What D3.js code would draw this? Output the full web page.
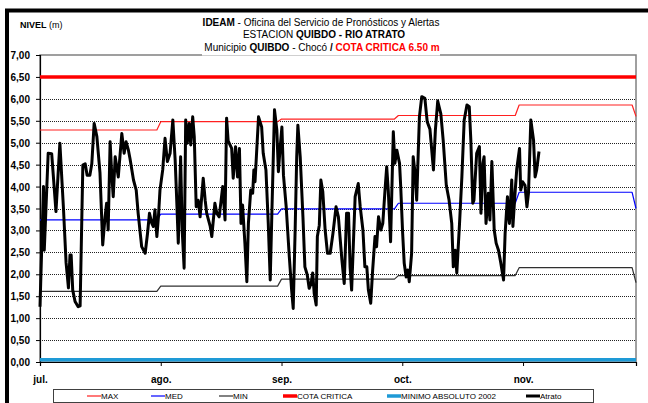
<!DOCTYPE html>
<html>
<head>
<meta charset="utf-8">
<title>Nivel Rio Atrato - Quibdo</title>
<script src="https://d3js.org/d3.v7.min.js"></script>
<style>
  body { margin: 0; background: #fff; }
  svg { display: block; }
  text { font-family: "Liberation Sans Narrow", "Arial Narrow", "Liberation Sans", Arial, sans-serif; fill: #000; }
  .lbl { font-family: "Liberation Sans", Arial, sans-serif; font-weight: bold; font-size: 10px; }
</style>
</head>
<body>
<svg width="648" height="403"></svg>
<script>
// monthly reference levels (m), one value per month start
const months = ['2008-07-01', '2008-08-01', '2008-09-01', '2008-10-01', '2008-11-01', '2008-12-01'];
const maxLevel = [5.29, 5.48, 5.54, 5.62, 5.86, 5.60];
const medLevel = [3.24, 3.37, 3.49, 3.62, 3.87, 3.50];
const minLevel = [1.61, 1.73, 1.89, 1.97, 2.15, 1.81];
const cotaCritica = 6.50;
const minimoAbsoluto2002 = 0.05;

// axis ticks
const xTickDates = ['2008-07-01', '2008-08-01', '2008-09-01', '2008-10-02', '2008-11-02'];
const xTickLabels = ['jul.', 'ago.', 'sep.', 'oct.', 'nov.'];
const yTicks = [0, 0.5, 1, 1.5, 2, 2.5, 3, 3.5, 4, 4.5, 5, 5.5, 6, 6.5, 7];

// Atrato readings: days since 1 jul, level (m)
const atratoDay = [0, 0.9, 1.1, 2.1, 3, 4.1, 5.1, 6, 6.7, 7.3, 7.7, 8, 8.4, 9, 9.8, 10.3, 11, 11.6, 12.1, 12.8,
  13.3, 13.9, 14.6, 15.4, 16.1, 16.7, 17.1, 17.5, 18, 18.4, 18.8, 19.3, 19.7, 20.1, 21, 21.6, 22.1, 22.7, 23.1, 24,
  24.7, 25.2, 26.1, 27, 27.6, 28.1, 28.7, 29.1, 29.5, 30, 30.4, 30.8, 31.5, 32.1, 32.7, 33.4, 34.1, 34.7, 35.1, 35.5,
  36.1, 36.5, 37, 37.4, 37.8, 38.3, 38.7, 39.2, 39.6, 40.1, 40.6, 41.1, 41.9, 42.4, 42.8, 43.7, 44.1, 44.9, 45.4, 46,
  46.9, 47.5, 47.9, 48.3, 49.2, 49.6, 50.2, 50.7, 51.2, 51.6, 52, 52.6, 53.1, 53.5, 54.1, 54.6, 54.9, 55.2, 56.1, 56.9,
  57.3, 58, 58.6, 59.1, 59.5, 60.2, 60.8, 61.2, 61.6, 62.1, 62.5, 63.2, 64, 64.6, 65, 65.5, 65.9, 66.2, 66.8, 67.5,
  68, 68.6, 69.1, 69.6, 70, 70.4, 70.9, 71.2, 71.7, 72.1, 72.6, 73.2, 73.8, 74.5, 75.2, 76, 76.6, 77.5, 78.1, 78.7,
  79.2, 79.6, 80, 80.9, 81.3, 81.7, 82.2, 82.9, 83.4, 83.9, 84.3, 84.9, 85.4, 86, 86.4, 86.9, 87.5, 88, 88.6, 89,
  89.4, 90, 90.7, 91.1, 91.6, 92.3, 92.6, 93.1, 93.5, 94, 94.4, 94.8, 95.4, 95.8, 96.3, 96.7, 97.4, 98, 98.8, 99.4,
  100.1, 101, 101.5, 102.1, 102.9, 103.5, 104.3, 105, 105.7, 106.1, 106.6, 107, 107.7, 108.3, 108.9, 109.6, 110.2, 110.6, 111.1, 111.4,
  112.1, 112.8, 113.2, 113.7, 114, 114.5, 115.1, 115.5, 116, 116.6, 117.1, 117.7, 118.3, 119, 119.4, 120, 120.2, 120.5, 121.1, 121.4,
  122, 122.4, 123.1, 123.4, 123.9, 124.5, 125, 125.4, 126, 126.7, 127.1, 127.5, 128.1];
const atratoLevel = [1.26, 4.00, 2.55, 4.76, 4.75, 3.43, 4.99, 3.54, 2.26, 1.69, 2.44, 2.44, 1.64, 1.38, 1.26, 1.28, 4.49, 4.52, 4.26, 4.26,
  4.52, 5.44, 5.14, 4.31, 2.67, 3.31, 3.62, 3.01, 5.02, 4.30, 3.77, 4.68, 4.45, 4.22, 5.21, 4.76, 5.02, 4.83, 4.64, 4.15,
  3.92, 3.39, 2.63, 2.48, 2.93, 3.39, 3.16, 3.09, 3.47, 2.86, 3.31, 3.92, 4.38, 5.10, 4.57, 4.76, 5.52, 4.60, 3.69, 2.71,
  4.68, 3.01, 2.14, 5.52, 4.99, 5.44, 4.95, 5.59, 5.14, 3.54, 3.69, 3.31, 4.19, 3.69, 3.39, 3.09, 2.86, 3.62, 3.39, 3.31,
  4.00, 3.24, 5.56, 5.04, 4.87, 4.19, 4.91, 4.22, 4.87, 3.16, 3.58, 2.71, 1.83, 3.16, 3.92, 3.85, 4.38, 4.11, 5.59, 5.36,
  4.76, 4.38, 3.16, 1.87, 3.31, 5.75, 5.29, 4.34, 4.83, 5.36, 4.26, 3.54, 2.40, 1.64, 1.22, 3.01, 4.68, 5.40, 4.68, 3.31,
  2.17, 1.99, 1.68, 1.79, 2.03, 1.56, 1.30, 2.86, 3.12, 4.15, 3.88, 3.01, 2.48, 2.48, 2.93, 3.54, 3.31, 2.33, 1.79, 3.39,
  3.39, 2.17, 1.64, 3.77, 3.92, 4.07, 3.54, 3.01, 2.17, 2.17, 1.64, 1.34, 2.10, 2.86, 2.63, 3.31, 3.01, 3.16, 3.96, 4.45,
  3.92, 2.74, 5.25, 4.53, 4.83, 4.53, 4.00, 2.93, 2.25, 1.94, 2.10, 1.83, 2.48, 4.68, 4.30, 3.69, 5.59, 6.05, 6.01, 5.48,
  5.31, 4.38, 5.29, 5.95, 5.66, 5.06, 4.03, 3.70, 3.16, 2.17, 2.55, 2.03, 3.16, 4.22, 5.52, 5.86, 5.82, 5.06, 3.62, 3.69,
  4.76, 4.91, 3.39, 4.53, 4.68, 3.16, 3.85, 3.24, 4.57, 3.01, 2.71, 2.55, 2.25, 1.87, 2.93, 3.77, 3.39, 3.16, 4.15, 3.09,
  3.92, 4.41, 4.87, 3.92, 4.11, 4.03, 3.54, 3.85, 5.52, 5.06, 4.22, 4.38, 4.80];

const svg = d3.select('svg');
const parse = d3.utcParse('%Y-%m-%d');
const start = parse(months[0]);
const end = parse(months[months.length - 1]);

const margin = {left: 40, right: 12, top: 55, bottom: 41};
const W = 648, H = 403;

const x = d3.scaleUtc().domain([start, end]).range([margin.left, W - margin.right]);
const y = d3.scaleLinear().domain([0, 7]).range([H - margin.bottom, margin.top]);

svg.append('rect').attr('width', W).attr('height', H).attr('fill', '#fff');

// outer frame (only top and left visible)
svg.append('path').attr('d', `M7,${H + 5}V10.5H${W + 5}`)
  .attr('fill', 'none').attr('stroke', '#000').attr('stroke-width', 4);

// plot area
svg.append('rect')
  .attr('x', x.range()[0]).attr('y', y(7))
  .attr('width', x.range()[1] - x.range()[0]).attr('height', y(0) - y(7))
  .attr('fill', '#fff').attr('stroke', '#808080').attr('stroke-width', 1.5);

// gridlines
svg.append('g').selectAll('line').data(yTicks.filter(d => d > 0 && d < 7)).join('line')
  .attr('x1', x.range()[0]).attr('x2', x.range()[1])
  .attr('y1', d => Math.round(y(d)) + 0.5).attr('y2', d => Math.round(y(d)) + 0.5)
  .attr('stroke', '#222').attr('stroke-width', 1).attr('stroke-dasharray', '1,1');

// y axis
const yAxis = svg.append('g').attr('transform', `translate(${x.range()[0]},0)`)
  .call(d3.axisLeft(y).tickValues(yTicks).tickSize(4).tickPadding(6)
    .tickFormat(d => d3.format('.2f')(d).replace('.', ',')));
yAxis.select('.domain').attr('stroke', '#000').attr('stroke-width', 1.2);
yAxis.selectAll('.tick line').attr('stroke', '#000');
yAxis.selectAll('text').attr('class', 'lbl').attr('dy', '0.35em');

// x axis
const xAxis = svg.append('g').attr('transform', `translate(0,${y(0)})`)
  .call(d3.axisBottom(x).tickValues(xTickDates.map(parse)).tickSize(4).tickPadding(10)
    .tickFormat((d, i) => xTickLabels[i]));
xAxis.select('.domain').attr('stroke', '#000').attr('stroke-width', 1.2);
xAxis.selectAll('.tick line').attr('stroke', '#000');
xAxis.selectAll('text').attr('class', 'lbl');

// monthly step lines: month value held to the last day of the month
function stepPoints(vals) {
  const pts = [];
  months.forEach((m, i) => {
    const d = parse(m);
    pts.push([d, vals[i]]);
    if (i < months.length - 1) pts.push([d3.utcDay.offset(parse(months[i + 1]), -1), vals[i]]);
  });
  return pts;
}
const line = d3.line().x(d => x(d[0])).y(d => y(d[1]));

const series = [
  {name: 'MAX', pts: stepPoints(maxLevel), color: '#ff2020', w: 1.2},
  {name: 'MED', pts: stepPoints(medLevel), color: '#0000ff', w: 1.2},
  {name: 'MIN', pts: stepPoints(minLevel), color: '#303030', w: 1.2},
  {name: 'COTA CRITICA', pts: [[start, cotaCritica], [end, cotaCritica]], color: '#ff0000', w: 3.5},
  {name: 'MINIMO ABSOLUTO 2002', pts: [[start, minimoAbsoluto2002], [end, minimoAbsoluto2002]], color: '#1e9ad6', w: 3.5},
  {name: 'Atrato', pts: atratoDay.map((d, i) => [new Date(+start + d * 864e5), atratoLevel[i]]), color: '#000', w: 3}
];

svg.append('g').selectAll('path').data(series).join('path')
  .attr('d', d => line(d.pts))
  .attr('fill', 'none').attr('stroke', d => d.color).attr('stroke-width', d => d.w)
  .attr('stroke-linejoin', 'round');

// title block
svg.append('rect').attr('x', 202).attr('y', 14).attr('width', 238).attr('height', 41.5).attr('fill', '#fff');
const title = svg.append('g').attr('font-size', 10).attr('text-anchor', 'middle');
const t1 = title.append('text').attr('x', 321).attr('y', 26);
t1.append('tspan').attr('font-weight', 'bold').text('IDEAM');
t1.append('tspan').text(' - Oficina del Servicio de Pronósticos y Alertas');
const t2 = title.append('text').attr('x', 324).attr('y', 38);
t2.append('tspan').text('ESTACION ');
t2.append('tspan').attr('font-weight', 'bold').text('QUIBDO - RIO ATRATO');
const t3 = title.append('text').attr('x', 322).attr('y', 50.5);
t3.append('tspan').text('Municipio ');
t3.append('tspan').attr('font-weight', 'bold').text('QUIBDO');
t3.append('tspan').text(' - Chocó  ');
t3.append('tspan').attr('font-weight', 'bold').text('/  ');
t3.append('tspan').attr('font-weight', 'bold').style('fill', '#ff0000').text('COTA CRITICA 6.50 m');

const nivel = svg.append('text').attr('x', 20).attr('y', 28).attr('font-size', 9);
nivel.append('tspan').attr('font-weight', 'bold').text('NIVEL');
nivel.append('tspan').text(' (m)');

// legend
const legX = [101, 165, 233, 297, 401, 540];
const legend = svg.append('g');
legend.append('rect').attr('x', 53.5).attr('y', 389.5).attr('width', 540).attr('height', 13)
  .attr('fill', '#fff').attr('stroke', '#404040').attr('stroke-width', 1);
series.forEach((s, i) => {
  legend.append('line').attr('x1', legX[i] - 14).attr('x2', legX[i]).attr('y1', 396).attr('y2', 396)
    .attr('stroke', s.color).attr('stroke-width', s.w);
  legend.append('text').attr('x', legX[i]).attr('y', 399).attr('font-size', 8).text(s.name);
});
</script>
</body>
</html>
